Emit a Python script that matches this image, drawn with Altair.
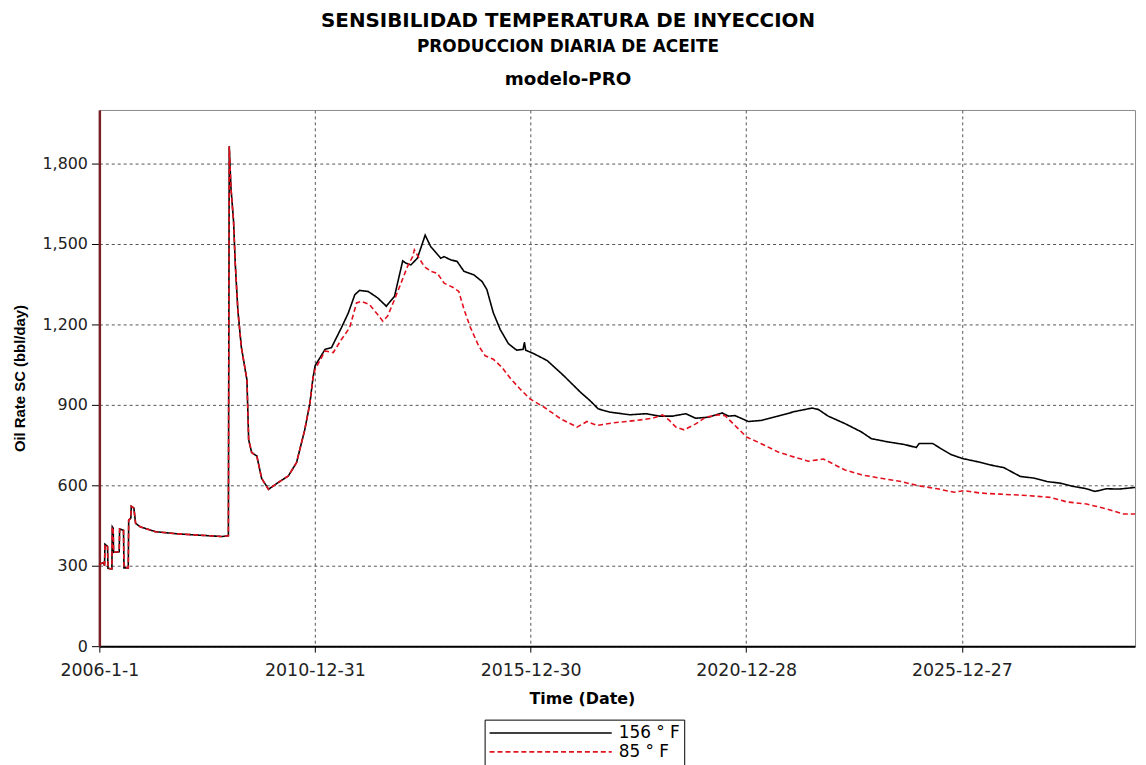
import altair as alt
import pandas as pd

FONT = "DejaVu Sans"
FONT_Y = "Liberation Sans"

TITLE_LINES = ["SENSIBILIDAD TEMPERATURA DE INYECCION"]
SUBTITLE_LINES = ["PRODUCCION DIARIA DE ACEITE"]
MODEL_LINES = ["modelo-PRO"]
X_TITLE = "Time (Date)"
Y_TITLE = "Oil Rate SC (bbl/day)"

SERIES = ["156 ° F", "85 ° F"]
COLORS = ["#000000", "#e3101e"]
DASHES = [[1, 0], [5, 3]]

# tick values
X_TICK_DATES = [(2006, 1, 1), (2010, 12, 31), (2015, 12, 30), (2020, 12, 28), (2025, 12, 27)]
Y_TICKS = [0, 300, 600, 900, 1200, 1500, 1800]

# shared history (both runs identical until ~2011), decimal years / bbl/day
EARLY_YEARS = [2006.00, 2006.10, 2006.12, 2006.13, 2006.19, 2006.20, 2006.29, 2006.30, 2006.32,
               2006.33, 2006.46, 2006.47, 2006.56, 2006.57, 2006.67, 2006.68, 2006.73, 2006.74,
               2006.80, 2006.84, 2006.95, 2007.30, 2007.80, 2008.30, 2008.85, 2008.99, 2009.01,
               2009.05, 2009.11, 2009.15, 2009.21, 2009.29, 2009.42, 2009.46, 2009.53, 2009.65,
               2009.76, 2009.92, 2010.15, 2010.38, 2010.57, 2010.76, 2010.88, 2010.95]
EARLY_VALUES = [305, 312, 300, 380, 372, 290, 288, 445, 440,
                350, 352, 437, 432, 292, 292, 470, 478, 522,
                515, 458, 445, 427, 419, 414, 409, 412, 1865,
                1709, 1585, 1425, 1252, 1116, 993, 770, 722, 709,
                626, 585, 611, 635, 685, 807, 907, 1000]

# 156 F run after 2011
HOT_YEARS = [2011.00, 2011.23, 2011.38, 2011.61, 2011.77, 2011.92, 2012.03, 2012.23, 2012.45,
             2012.65, 2012.84, 2012.91, 2013.03, 2013.11, 2013.22, 2013.37, 2013.55, 2013.68,
             2013.91, 2013.99, 2014.14, 2014.29, 2014.45, 2014.68, 2014.87, 2014.98, 2015.13,
             2015.29, 2015.48, 2015.67, 2015.82, 2015.85, 2015.88, 2016.08, 2016.38, 2016.76,
             2017.15, 2017.37, 2017.56, 2017.83, 2018.29, 2018.67, 2018.98, 2019.28, 2019.59,
             2019.82, 2020.12, 2020.43, 2020.58, 2020.73, 2021.04, 2021.34, 2021.73, 2022.11,
             2022.51, 2022.66, 2022.89, 2023.28, 2023.66, 2023.89, 2024.27, 2024.66, 2024.93,
             2025.00, 2025.31, 2025.50, 2025.73, 2026.00, 2026.35, 2026.73, 2026.96, 2027.34,
             2027.65, 2027.96, 2028.26, 2028.57, 2028.88, 2029.07, 2029.34, 2029.64, 2030.00]
HOT_VALUES = [1046, 1107, 1114, 1188, 1243, 1311, 1327, 1323, 1299,
              1268, 1305, 1354, 1437, 1428, 1422, 1447, 1533, 1490,
              1447, 1453, 1441, 1435, 1398, 1385, 1360, 1330, 1243,
              1181, 1128, 1104, 1107, 1133, 1104, 1090, 1065, 1009,
              947, 916, 885, 873, 863, 867, 858, 858, 867,
              850, 854, 870, 858, 860, 838, 842, 858, 875,
              888, 883, 858, 830, 799, 774, 762, 752, 741,
              756, 756, 737, 715, 700, 688, 673, 666, 633,
              627, 614, 608, 596, 587, 577, 587, 586, 592]

# 85 F run after 2011
COLD_YEARS = [2011.00, 2011.23, 2011.42, 2011.61, 2011.80, 2011.96, 2012.07, 2012.26, 2012.45,
              2012.57, 2012.68, 2012.84, 2012.99, 2013.14, 2013.26, 2013.30, 2013.41, 2013.53,
              2013.68, 2013.83, 2013.99, 2014.22, 2014.33, 2014.45, 2014.60, 2014.79, 2014.94,
              2015.13, 2015.33, 2015.52, 2015.75, 2015.98, 2016.31, 2016.69, 2017.07, 2017.30,
              2017.53, 2017.91, 2018.44, 2018.82, 2019.05, 2019.21, 2019.36, 2019.55, 2019.82,
              2020.05, 2020.35, 2020.50, 2020.73, 2021.00, 2021.34, 2021.73, 2022.11, 2022.43,
              2022.78, 2023.28, 2023.66, 2024.12, 2024.58, 2024.96, 2025.42, 2025.81, 2026.04,
              2026.42, 2026.88, 2027.50, 2028.03, 2028.42, 2028.88, 2029.34, 2029.72, 2030.00]
COLD_VALUES = [1033, 1101, 1095, 1144, 1188, 1280, 1286, 1274, 1237,
               1212, 1231, 1293, 1354, 1416, 1453, 1478, 1447, 1416,
               1398, 1391, 1354, 1336, 1323, 1256, 1188, 1120, 1083,
               1070, 1040, 1000, 959, 922, 891, 848, 817, 838,
               823, 833, 842, 850, 863, 842, 817, 807, 829,
               854, 863, 860, 823, 780, 755, 724, 705, 690,
               698, 657, 639, 626, 614, 599, 587, 574, 580,
               571, 567, 562, 555, 538, 530, 512, 493, 493]

BASE_MS = pd.Timestamp("2006-01-01", tz="UTC").value // 10**6
DAY_MS = 86400000


def year_to_ms(y):
    return int(BASE_MS + (y - 2006.0) * 365.25 * DAY_MS)


records = []
for name, yrs, vals in [
    (SERIES[0], EARLY_YEARS + HOT_YEARS, EARLY_VALUES + HOT_VALUES),
    (SERIES[1], EARLY_YEARS + COLD_YEARS, EARLY_VALUES + COLD_VALUES),
]:
    for i, (yy, vv) in enumerate(zip(yrs, vals)):
        records.append({"series": name, "date": year_to_ms(yy), "rate": vv, "idx": i})
df = pd.DataFrame(records)

x_values = [alt.DateTime(year=a, month=b, date=c, utc=True) for a, b, c in X_TICK_DATES]

legend = alt.Legend(
    title=None, orient="none", legendX=388, legendY=614, direction="vertical",
    symbolType="stroke", symbolSize=15129, symbolStrokeWidth=1.6, clipHeight=19,
    labelFont=FONT, labelFontSize=17, labelColor="#000", labelOffset=6,
    strokeColor="#000", fillColor="#ffffff", padding=4, rowPadding=0,
)

lines = alt.Chart(df).mark_line(strokeWidth=1.6).encode(
    x=alt.X(
        "date:T",
        scale=alt.Scale(type="utc", domain=[alt.DateTime(year=2006, month=1, date=1, utc=True),
                                            alt.DateTime(year=2030, month=1, date=1, utc=True)]),
        axis=alt.Axis(
            values=x_values, labelExpr="utcFormat(datum.value, '%Y-%-m-%-d')",
            title=X_TITLE, titleX=486, titleFont=FONT, titleFontSize=16, titleFontWeight="bold",
            titleColor="#000", titlePadding=11,
            labelFont=FONT, labelFontSize=17.5, labelColor="#222", labelPadding=10,
            labelOverlap=False, labelFlush=False,
            tickSize=6, tickColor="#000", domainColor="#000", domainWidth=2,
            grid=True, gridColor="#555", gridDash=[3, 3], gridWidth=1,
        ),
    ),
    y=alt.Y(
        "rate:Q",
        scale=alt.Scale(domain=[0, 2000], nice=False),
        axis=alt.Axis(
            values=Y_TICKS, format=",d",
            title=Y_TITLE, titleFont=FONT_Y, titleFontSize=15, titleFontWeight="bold",
            titleColor="#000", titlePadding=15,
            labelFont=FONT, labelFontSize=16, labelColor="#222", labelPadding=4,
            tickSize=8, tickColor="#000", domainColor="#7a1e28", domainWidth=2.5,
            grid=True, gridColor="#555", gridDash=[3, 3], gridWidth=1,
        ),
    ),
    color=alt.Color("series:N", scale=alt.Scale(domain=SERIES, range=COLORS), legend=legend),
    strokeDash=alt.StrokeDash("series:N", scale=alt.Scale(domain=SERIES, range=DASHES), legend=legend),
    order="idx:Q",
)


def heading(lines_list, size, baseline_y):
    return alt.Chart(pd.DataFrame({"label": lines_list})).mark_text(
        font=FONT, fontSize=size, fontWeight="bold", align="center", baseline="alphabetic",
        color="#000"
    ).encode(text="label:N", x=alt.value(472), y=alt.value(baseline_y))


title_text = heading(TITLE_LINES, 20, -84)
subtitle_text = heading(SUBTITLE_LINES, 17, -58)
model_text = heading(MODEL_LINES, 18.4, -25)

chart = alt.layer(lines, title_text, subtitle_text, model_text).properties(
    width=1043,
    height=540,
    padding={"left": 92, "top": 100, "right": 3, "bottom": 117},
    autosize=alt.AutoSizeParams(type="none"),
).configure_view(stroke="#8a8a8a", strokeWidth=1)

chart.save("out.html", embed_options={"renderer": "svg", "actions": False})
